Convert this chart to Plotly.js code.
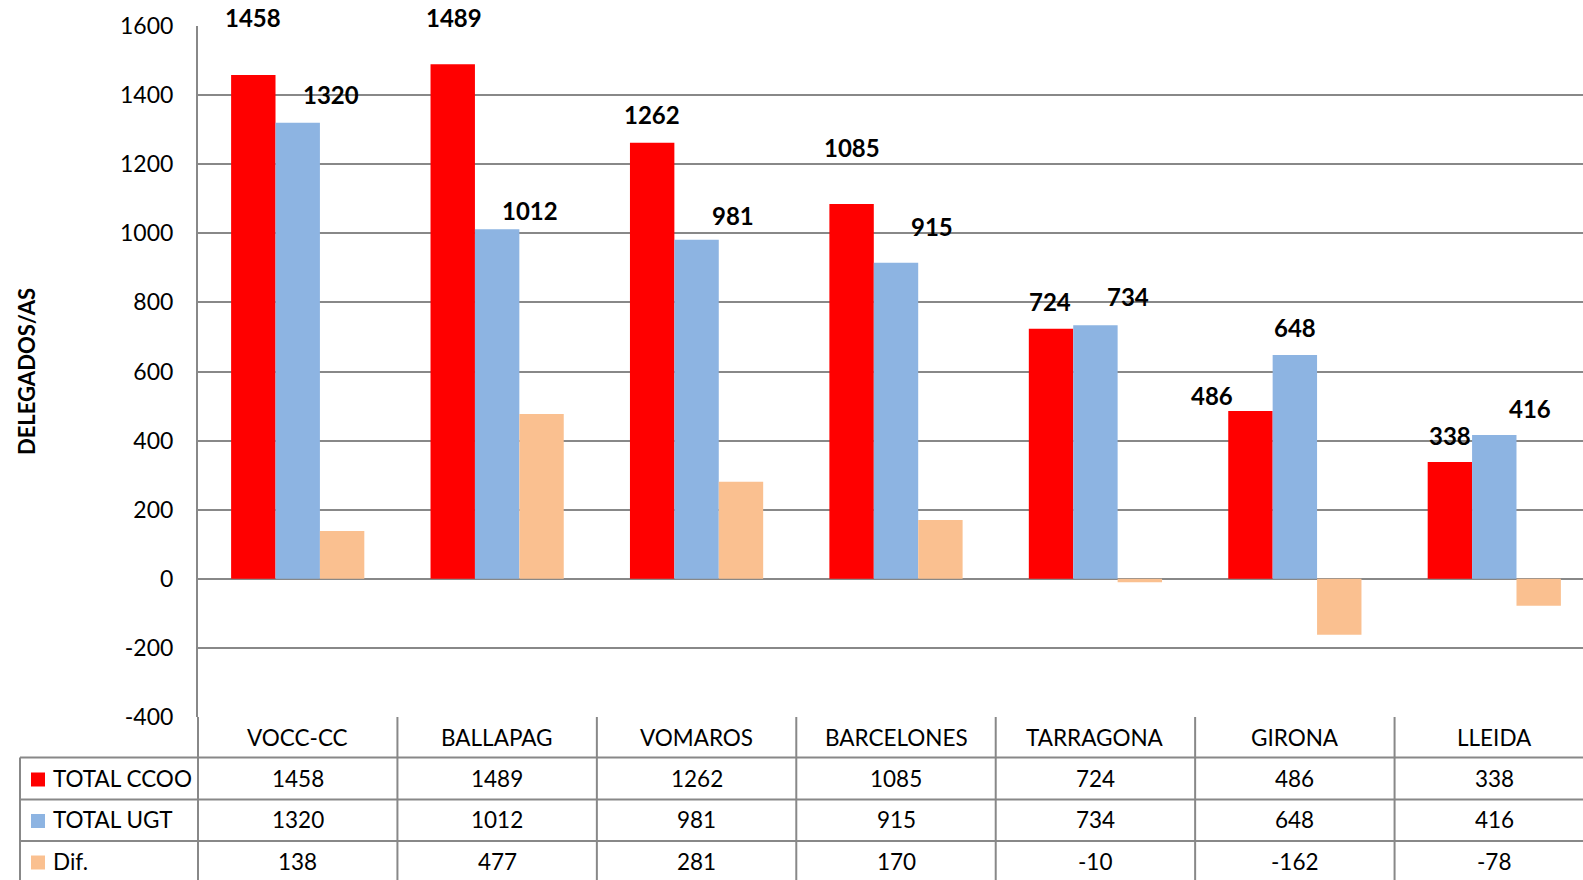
<!DOCTYPE html>
<html>
<head>
<meta charset="utf-8">
<script src="https://cdn.plot.ly/plotly-3.0.1.min.js"></script>
<style>
html,body{margin:0;padding:0;overflow:hidden;background:#fff;}
#chart{width:1600px;height:880px;}
</style>
</head>
<body>
<div id="chart"></div>
<script>
// ---- data ----
const categories = ['VOCC-CC','BALLAPAG','VOMAROS','BARCELONES','TARRAGONA','GIRONA','LLEIDA'];
const seriesNames = ['TOTAL CCOO','TOTAL UGT','Dif.'];
const totalCCOO = [1458,1489,1262,1085,724,486,338];
const totalUGT = [1320,1012,981,915,734,648,416];
const dif = [138,477,281,170,-10,-162,-78];
const yTicks = [-400,-200,0,200,400,600,800,1000,1200,1400,1600];

// ---- label placement (pixel offsets from bar top centre) ----
const offCCOO = [[0,-58],[1,-47],[0,-28],[0,-56],[-1,-27],[-38,-15],[0,-27]];
const offUGT  = [[33,-28],[33,-19],[36,-24],[36,-36],[33,-29],[0,-27],[36,-27]];

// ---- style ----
const colors = ['#FF0000','#8DB4E2','#FAC090'];
const grid = '#888888';
const FONT = 'Lato, "Open Sans", sans-serif';
const W = 1600, H = 880;
const M = {l:198, r:6, t:26, b:163};
const plotW = W - M.l - M.r, plotH = H - M.t - M.b;
const bargap = 0.332;
const catW = plotW / categories.length;
const barW = catW * (1 - bargap) / 3;
const bottomPx = H - M.b;
const py = p => (bottomPx - p) / plotH;      // pixel y -> paper y
const px = p => (p - M.l) / plotW;           // pixel x -> paper x

const series = [totalCCOO, totalUGT, dif];
const traces = series.map((vals, i) => ({
  type: 'bar', x: categories, y: vals, name: seriesNames[i],
  marker: {color: colors[i], line: {width: 0}}, hoverinfo: 'x+y+name'
}));

const annotations = [];
// data labels
[[totalCCOO, offCCOO, -barW], [totalUGT, offUGT, 0]].forEach(([vals, offs, base]) => {
  vals.forEach((v, j) => {
    annotations.push({
      x: categories[j], y: v, xref: 'x', yref: 'y', text: String(v), showarrow: false,
      xanchor: 'center', yanchor: 'middle', xshift: base + offs[j][0], yshift: -offs[j][1],
      font: {family: FONT, size: 24, color: '#000', weight: 'bold'}
    });
  });
});

// table geometry (pixels)
const rowLines = [bottomPx, 757.5, 799.5, 841, 884];
const rowCenters = [737.5, 778.5, 820, 861.5];
const tableLeft = 20;
const tfont = {family: FONT, size: 22.5, color: '#000'};

// category header row
categories.forEach(c => annotations.push({
  x: c, xref: 'x', y: py(rowCenters[0]), yref: 'paper', text: c, showarrow: false,
  xanchor: 'center', yanchor: 'middle', font: tfont
}));
// value rows
series.forEach((vals, i) => {
  vals.forEach((v, j) => annotations.push({
    x: categories[j], xref: 'x', y: py(rowCenters[i + 1]), yref: 'paper', text: String(v),
    showarrow: false, xanchor: 'center', yanchor: 'middle', font: tfont
  }));
  annotations.push({
    x: px(51), xref: 'paper', y: py(rowCenters[i + 1]), yref: 'paper', text: seriesNames[i],
    showarrow: false, xanchor: 'left', yanchor: 'middle', font: tfont
  });
});

const lineStyle = {color: grid, width: 2};
const shapes = [];
// legend keys
series.forEach((_, i) => {
  const c = rowCenters[i + 1] + 1;
  shapes.push({type: 'rect', xref: 'paper', yref: 'paper', x0: px(31), x1: px(45),
    y0: py(c + 7), y1: py(c - 7), fillcolor: colors[i], line: {width: 0}});
});
// horizontal table lines
for (let k = 1; k < rowLines.length; k++) {
  shapes.push({type: 'line', xref: 'paper', yref: 'paper', x0: px(tableLeft), x1: 1.02,
    y0: py(rowLines[k]), y1: py(rowLines[k]), line: lineStyle});
}
// vertical table lines
shapes.push({type: 'line', xref: 'paper', yref: 'paper', x0: px(tableLeft), x1: px(tableLeft),
  y0: py(rowLines[1]), y1: py(rowLines[4]), line: lineStyle});
shapes.push({type: 'line', xref: 'paper', yref: 'paper', x0: 0, x1: 0,
  y0: 0, y1: py(rowLines[4]), line: lineStyle});
for (let k = 1; k <= categories.length; k++) {
  shapes.push({type: 'line', xref: 'x', yref: 'paper', x0: k - 0.5, x1: k - 0.5,
    y0: 0, y1: py(rowLines[4]), line: lineStyle});
}

const layout = {
  width: W, height: H, margin: M, paper_bgcolor: '#fff', plot_bgcolor: '#fff',
  barmode: 'group', bargap: bargap, bargroupgap: 0, showlegend: false,
  font: {family: FONT, size: 22, color: '#000'},
  xaxis: {type: 'category', showticklabels: false, showgrid: false, zeroline: false,
    showline: false, ticks: '', range: [-0.5, categories.length - 0.5], fixedrange: true},
  yaxis: {range: [-400, 1600], tickvals: yTicks, ticktext: yTicks.map(String),
    showgrid: true, gridcolor: grid, gridwidth: 2,
    zeroline: true, zerolinecolor: grid, zerolinewidth: 2,
    showline: true, linecolor: grid, linewidth: 2,
    ticks: 'outside', ticklen: 18, tickcolor: 'rgba(0,0,0,0)',
    tickfont: {family: FONT, size: 23, color: '#000'},
    title: {text: 'DELEGADOS/AS', standoff: 78,
      font: {family: FONT, size: 22, color: '#000', weight: 'bold'}},
    automargin: false, fixedrange: true},
  annotations: annotations, shapes: shapes
};

Plotly.newPlot('chart', traces, layout, {displayModeBar: false, staticPlot: true});
</script>
</body>
</html>
